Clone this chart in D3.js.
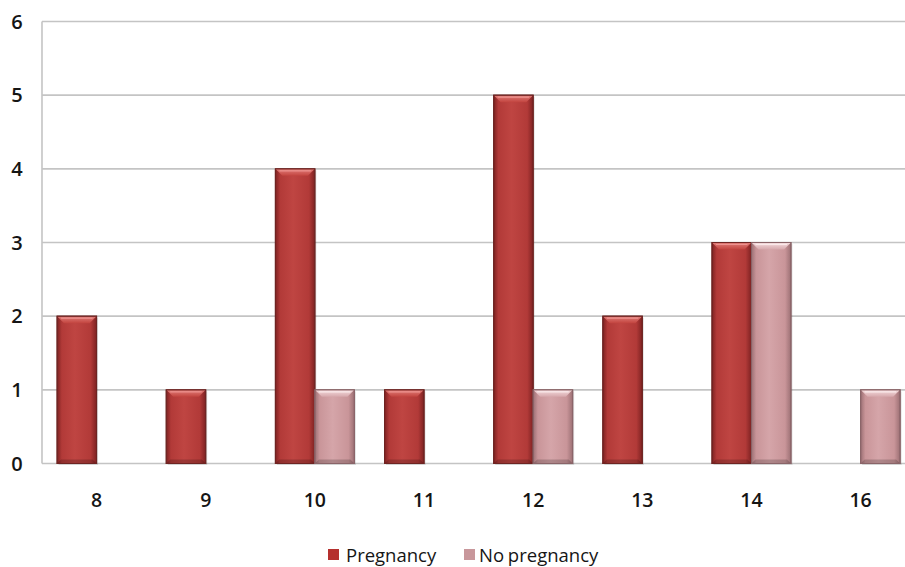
<!DOCTYPE html>
<html>
<head>
<meta charset="utf-8">
<script src="https://cdn.jsdelivr.net/npm/d3@7/dist/d3.min.js"></script>
<style>
  html, body { margin: 0; padding: 0; background: #fff; }
  svg { display: block; }
  text { font-family: "Open Sans", "DejaVu Sans", sans-serif; fill: #151515; font-weight: 600; }
</style>
</head>
<body>
<svg id="chart" width="905" height="567"></svg>
<script>
// Age groups (years) and counts per outcome
const categories = ["8", "9", "10", "11", "12", "13", "14", "16"];
const pregnancy = [2, 1, 4, 1, 5, 2, 3, 0];
const noPregnancy = [0, 0, 1, 0, 1, 0, 3, 1];
const yTicks = [0, 1, 2, 3, 4, 5, 6];
const seriesNames = ["Pregnancy", "No pregnancy"];

const W = 905, H = 567;
const margin = { left: 42, top: 21.5, bottom: 463.5 };
const step = 109.15;
const barW = 39.5;

const svg = d3.select("#chart");

const x = d3.scaleBand()
  .domain(categories)
  .range([margin.left, margin.left + step * categories.length])
  .padding(0);

const y = d3.scaleLinear().domain([0, 6]).range([margin.bottom, margin.top]);

// Gradients for the bevelled bar look
const defs = svg.append("defs");
function barGradient(id, edge, mid, light) {
  const g = defs.append("linearGradient").attr("id", id)
    .attr("x1", "0%").attr("x2", "100%").attr("y1", "0%").attr("y2", "0%");
  g.append("stop").attr("offset", "0%").attr("stop-color", edge);
  g.append("stop").attr("offset", "12%").attr("stop-color", mid);
  g.append("stop").attr("offset", "45%").attr("stop-color", light);
  g.append("stop").attr("offset", "85%").attr("stop-color", mid);
  g.append("stop").attr("offset", "100%").attr("stop-color", edge);
}
barGradient("gPreg", "#7e2222", "#b23a38", "#bf4542");
barGradient("gNo", "#9c7074", "#c99599", "#d5a5a9");

// vertical fade for the top bevel
function bevelGradient(id, c1, c2) {
  const g = defs.append("linearGradient").attr("id", id)
    .attr("x1", "0%").attr("x2", "0%").attr("y1", "0%").attr("y2", "100%");
  g.append("stop").attr("offset", "0%").attr("stop-color", c1);
  g.append("stop").attr("offset", "100%").attr("stop-color", c2);
}
bevelGradient("bPreg", "#e07a76", "#c2443f");
bevelGradient("bNo", "#f3d9db", "#d6a8ac");

const series = [
  { name: seriesNames[0], values: pregnancy, fill: "url(#gPreg)", stroke: "#6e2422", top: "url(#bPreg)", topLight: "#ec938f", swatch: "#b5302e", offset: -barW },
  { name: seriesNames[1], values: noPregnancy, fill: "url(#gNo)", stroke: "#8a6468", top: "url(#bNo)", topLight: "#fae9ea", swatch: "#c8979b", offset: 0 }
];

// Horizontal gridlines
svg.append("g").selectAll("line")
  .data(yTicks)
  .join("line")
  .attr("x1", margin.left).attr("x2", W)
  .attr("y1", d => y(d)).attr("y2", d => y(d))
  .attr("stroke", "#c4c4c4").attr("stroke-width", 1.6);

// Left axis line
svg.append("line")
  .attr("x1", margin.left).attr("x2", margin.left)
  .attr("y1", y(6)).attr("y2", y(0))
  .attr("stroke", "#c4c4c4").attr("stroke-width", 1.6);

// Y tick labels
svg.append("g").selectAll("text")
  .data(yTicks)
  .join("text")
  .attr("x", 17).attr("y", d => y(d))
  .attr("dy", "0.36em")
  .attr("text-anchor", "middle")
  .style("font-size", "20px")
  .text(d => d);

// X tick labels
svg.append("g").selectAll("text")
  .data(categories)
  .join("text")
  .attr("x", d => x(d) + x.bandwidth() / 2)
  .attr("y", 500)
  .attr("dy", "0.36em")
  .attr("text-anchor", "middle")
  .style("font-size", "19.5px")
  .text(d => d);

// Bars
series.forEach(s => {
  const g = svg.append("g");
  const data = categories.map((c, i) => ({ c, v: s.values[i] })).filter(d => d.v > 0);
  const bx = d => x(d.c) + x.bandwidth() / 2 + s.offset;

  // soft shadow
  g.selectAll("rect.shadow").data(data).join("rect")
    .attr("class", "shadow")
    .attr("x", d => bx(d) + 1.5).attr("y", d => y(d.v) + 1.5)
    .attr("width", barW).attr("height", d => y(0) - y(d.v))
    .attr("fill", "rgba(0,0,0,0.12)");

  g.selectAll("rect.bar").data(data).join("rect")
    .attr("class", "bar")
    .attr("x", bx).attr("y", d => y(d.v))
    .attr("width", barW).attr("height", d => y(0) - y(d.v))
    .attr("fill", s.fill)
    .attr("stroke", s.stroke).attr("stroke-width", 1);

  // bevelled top
  g.selectAll("path.bevel").data(data).join("path")
    .attr("class", "bevel")
    .attr("d", d => {
      const x0 = bx(d), y0 = y(d.v), b = 7;
      return `M${x0 + 0.5},${y0 + 0.5} L${x0 + barW - 0.5},${y0 + 0.5} L${x0 + barW - b},${y0 + b} L${x0 + b},${y0 + b} Z`;
    })
    .attr("fill", s.top);
  g.selectAll("line.hl").data(data).join("line")
    .attr("class", "hl")
    .attr("x1", d => bx(d) + 4).attr("x2", d => bx(d) + barW - 4)
    .attr("y1", d => y(d.v) + 2).attr("y2", d => y(d.v) + 2)
    .attr("stroke", s.topLight).attr("stroke-width", 1.2);
  // bottom bevel
  g.selectAll("path.bbevel").data(data).join("path")
    .attr("class", "bbevel")
    .attr("d", d => {
      const x0 = bx(d), y1 = y(0), b = 4;
      return `M${x0 + 0.5},${y1 - 0.5} L${x0 + barW - 0.5},${y1 - 0.5} L${x0 + barW - b},${y1 - b} L${x0 + b},${y1 - b} Z`;
    })
    .attr("fill", "rgba(0,0,0,0.18)");
  // redraw outline on top
  g.selectAll("rect.outline").data(data).join("rect")
    .attr("class", "outline")
    .attr("x", bx).attr("y", d => y(d.v))
    .attr("width", barW).attr("height", d => y(0) - y(d.v))
    .attr("fill", "none")
    .attr("stroke", s.stroke).attr("stroke-width", 1);
});

// Legend
const legend = svg.append("g");
const legendItems = [
  { s: series[0], sx: 328, tx: 346 },
  { s: series[1], sx: 464, tx: 479 }
];
legendItems.forEach(it => {
  legend.append("rect")
    .attr("x", it.sx).attr("y", 549).attr("width", 11).attr("height", 11)
    .attr("fill", it.s.swatch);
  legend.append("text")
    .attr("x", it.tx).attr("y", 555)
    .attr("dy", "0.36em")
    .style("font-size", "18.5px")
    .style("font-weight", "500")
    .style("word-spacing", "-1px")
    .text(it.s.name);
});
</script>
</body>
</html>
